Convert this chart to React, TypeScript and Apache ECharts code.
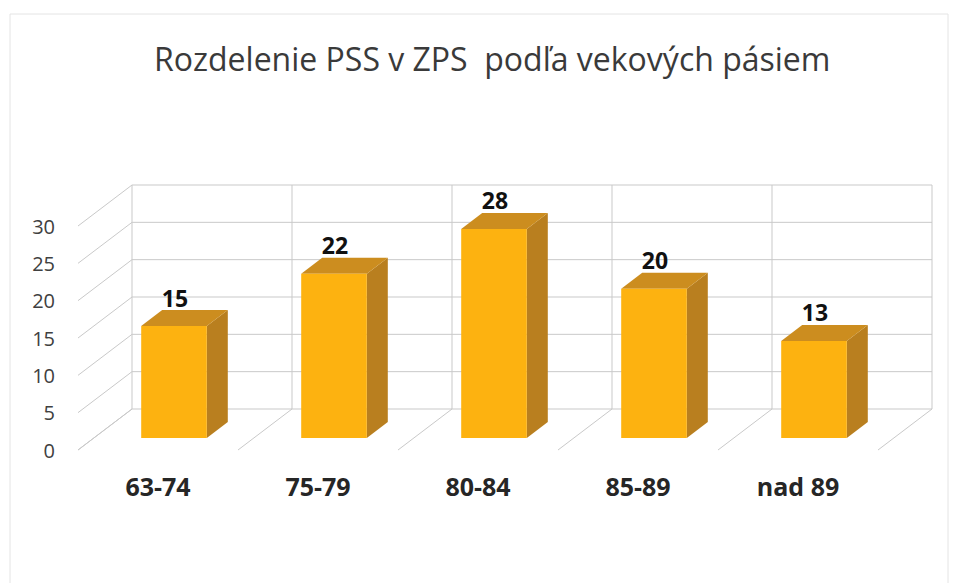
import React, { useEffect, useRef } from "react";
import * as echarts from "echarts";

const categories = ["63-74", "75-79", "80-84", "85-89", "nad 89"];
const values = [15, 22, 28, 20, 13];
const yTicks = [0, 5, 10, 15, 20, 25, 30];
const titleText = "Rozdelenie PSS v ZPS  podľa vekových pásiem";

// depth geometry (pixels)
const WALL_DX = 54;
const WALL_DY = -41;
const BAR_DX = 16;
const BAR_DY = -12;
const DEPTH_DX = 21;
const DEPTH_DY = -16;
const BAR_RATIO = 0.41;
const GRID_COLOR = "#c9c9c9";

export default function App() {
  const ref = useRef<HTMLDivElement>(null);
  useEffect(() => {
    if (!ref.current) return;
    const chart = echarts.init(ref.current, undefined, { renderer: "svg" });
    const option: any = {
      animation: false,
      backgroundColor: "#ffffff",
      title: {
        text: titleText,
        left: 149,
        top: 37,
        textStyle: {
          fontFamily: "Open Sans",
          fontWeight: "normal",
          fontSize: 32,
          color: "#3a3a3a",
        },
      },
      graphic: [
        {
          type: "rect",
          shape: { x: 10, y: 14, width: 938, height: 600 },
          style: { fill: "none", stroke: "#e4e4e4", lineWidth: 1 },
          silent: true,
        },
      ],
      grid: { left: 78, top: 226, width: 800, height: 224, containLabel: false },
      xAxis: {
        type: "category",
        data: categories,
        boundaryGap: true,
        axisLine: { show: false },
        axisTick: { show: false },
        splitLine: { show: false },
        axisLabel: {
          margin: 23,
          fontFamily: "Open Sans",
          fontWeight: "bold",
          fontSize: 25,
          lineHeight: 26,
          color: "#262626",
        },
      },
      yAxis: {
        type: "value",
        min: 0,
        max: 30,
        interval: 5,
        axisLine: { show: false },
        axisTick: { show: false },
        splitLine: { show: false },
        axisLabel: {
          margin: 23,
          fontFamily: "Open Sans",
          fontSize: 20,
          color: "#404040",
        },
      },
      series: [
        {
          type: "custom",
          name: "hwalls",
          silent: true,
          z: 1,
          data: yTicks.map((v) => [0, v]),
          renderItem: (params: any, api: any) => {
            const cs = params.coordSys;
            const y = api.coord([0, api.value(1)])[1];
            const x0 = cs.x;
            const x1 = cs.x + cs.width;
            return {
              type: "group",
              children: [
                {
                  type: "line",
                  shape: { x1: x0 + WALL_DX, y1: y + WALL_DY, x2: x1 + WALL_DX, y2: y + WALL_DY },
                  style: { stroke: GRID_COLOR, lineWidth: 1 },
                },
                {
                  type: "line",
                  shape: { x1: x0, y1: y, x2: x0 + WALL_DX, y2: y + WALL_DY },
                  style: { stroke: GRID_COLOR, lineWidth: 1 },
                },
              ],
            };
          },
        },
        {
          type: "custom",
          name: "vwalls",
          silent: true,
          z: 1,
          data: categories.map((c, i) => [i, 0]),
          renderItem: (params: any, api: any) => {
            const idx = api.value(0);
            const c0 = api.coord([idx, 0]);
            const c30 = api.coord([idx, 30]);
            const bw = api.size([1, 0])[0];
            const edges = [c0[0] - bw / 2];
            if (idx === categories.length - 1) edges.push(c0[0] + bw / 2);
            const children: any[] = [];
            edges.forEach((x) => {
              children.push({
                type: "line",
                shape: { x1: x + WALL_DX, y1: c0[1] + WALL_DY, x2: x + WALL_DX, y2: c30[1] + WALL_DY },
                style: { stroke: GRID_COLOR, lineWidth: 1 },
              });
              children.push({
                type: "line",
                shape: { x1: x, y1: c0[1], x2: x + WALL_DX, y2: c0[1] + WALL_DY },
                style: { stroke: GRID_COLOR, lineWidth: 1 },
              });
            });
            return { type: "group", children };
          },
        },
        {
          type: "custom",
          name: "bars",
          z: 5,
          data: values.map((v, i) => [i, v]),
          renderItem: (params: any, api: any) => {
            const idx = api.value(0);
            const val = api.value(1);
            const top = api.coord([idx, val]);
            const base = api.coord([idx, 0]);
            const bw = api.size([1, 0])[0] * BAR_RATIO;
            const cx = top[0] + BAR_DX;
            const xl = cx - bw / 2;
            const xr = cx + bw / 2;
            const yt = top[1] + BAR_DY;
            const yb = base[1] + BAR_DY;
            return {
              type: "group",
              children: [
                {
                  type: "polygon",
                  shape: {
                    points: [
                      [xr, yt],
                      [xr + DEPTH_DX, yt + DEPTH_DY],
                      [xr + DEPTH_DX, yb + DEPTH_DY],
                      [xr, yb],
                    ],
                  },
                  style: { fill: "#b97f1f" },
                },
                {
                  type: "polygon",
                  shape: {
                    points: [
                      [xl, yt],
                      [xl + DEPTH_DX, yt + DEPTH_DY],
                      [xr + DEPTH_DX, yt + DEPTH_DY],
                      [xr, yt],
                    ],
                  },
                  style: { fill: "#cc8d1f" },
                },
                {
                  type: "rect",
                  shape: { x: xl, y: yt, width: bw, height: yb - yt },
                  style: { fill: "#fdb210" },
                },
                {
                  type: "text",
                  style: {
                    text: String(val),
                    x: cx + 1,
                    y: yt + DEPTH_DY - 1,
                    align: "center",
                    verticalAlign: "bottom",
                    fontFamily: "Open Sans",
                    fontWeight: "bold",
                    fontSize: 23,
                    fill: "#111111",
                  },
                },
              ],
            };
          },
        },
      ],
    };
    chart.setOption(option);
    return () => chart.dispose();
  }, []);
  return (
    <div
      ref={ref}
      style={{ position: "absolute", left: 0, top: 0, width: 955, height: 583 }}
    />
  );
}
